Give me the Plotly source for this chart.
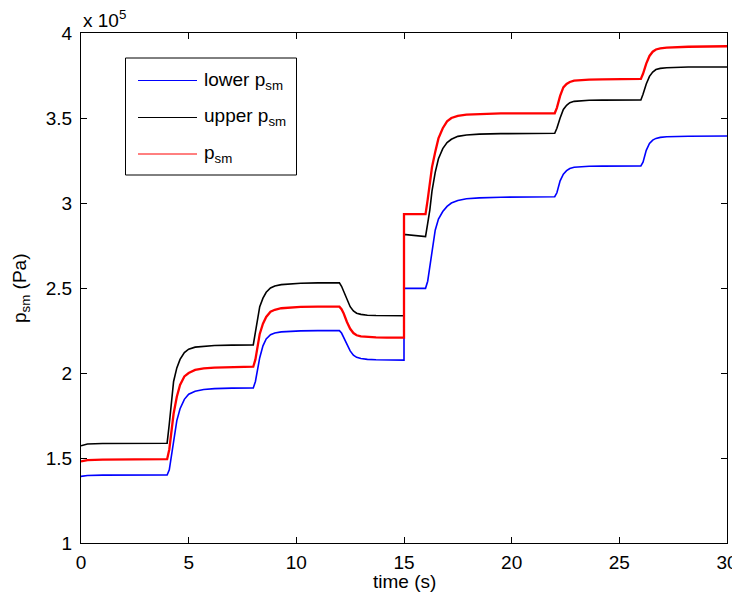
import plotly.graph_objects as go

# time samples (s)
time_s = [0, 0.3, 1, 2, 3, 4, 4.1, 4.2, 4.3, 4.45, 4.6, 4.8, 5.0, 5.3, 5.7, 6.2, 7, 8,
          8.1, 8.2, 8.3, 8.45, 8.6, 8.8, 9.0, 9.3, 9.7, 10.2, 11, 12,
          12.1, 12.2, 12.35, 12.5, 12.65, 12.8, 13.0, 13.3, 13.7, 14.2, 15, 15,
          16, 16.1, 16.2, 16.3, 16.45, 16.6, 16.8, 17.0, 17.2, 17.5, 17.9, 18.5, 19.5, 22,
          22.1, 22.25, 22.4, 22.55, 22.7, 22.9, 23.2, 23.6, 24.2, 26,
          26.1, 26.25, 26.4, 26.55, 26.7, 26.9, 27.2, 27.6, 28.2, 30]

# pressures in units of 1e5 Pa
lower_psm = [1.392, 1.397, 1.399, 1.400, 1.400, 1.400, 1.43, 1.52, 1.61, 1.72, 1.79, 1.845, 1.875, 1.893, 1.903, 1.908, 1.911, 1.912,
             1.95, 2.02, 2.09, 2.16, 2.20, 2.225, 2.235, 2.242, 2.246, 2.248, 2.249, 2.249,
             2.235, 2.21, 2.165, 2.13, 2.105, 2.092, 2.085, 2.080, 2.078, 2.076, 2.076, 2.498,
             2.498, 2.54, 2.62, 2.71, 2.84, 2.905, 2.95, 2.98, 3.00, 3.015, 3.025, 3.03, 3.034, 3.037,
             3.06, 3.13, 3.17, 3.19, 3.203, 3.21, 3.214, 3.216, 3.217, 3.218,
             3.24, 3.31, 3.35, 3.37, 3.38, 3.386, 3.39, 3.392, 3.393, 3.394]

upper_psm = [1.572, 1.582, 1.585, 1.586, 1.587, 1.587, 1.70, 1.84, 1.95, 2.03, 2.08, 2.12, 2.14, 2.152, 2.158, 2.162, 2.164, 2.165,
             2.24, 2.32, 2.39, 2.44, 2.475, 2.50, 2.512, 2.52, 2.525, 2.528, 2.53, 2.53,
             2.51, 2.48, 2.43, 2.39, 2.365, 2.352, 2.345, 2.34, 2.338, 2.337, 2.337, 2.815,
             2.802, 2.88, 2.96, 3.07, 3.18, 3.26, 3.32, 3.355, 3.375, 3.392, 3.40, 3.405, 3.408, 3.41,
             3.44, 3.50, 3.55, 3.575, 3.59, 3.598, 3.602, 3.604, 3.605, 3.606,
             3.64, 3.70, 3.745, 3.77, 3.785, 3.792, 3.796, 3.798, 3.80, 3.80]

psm = [1.480, 1.488, 1.491, 1.492, 1.493, 1.493, 1.55, 1.65, 1.76, 1.86, 1.93, 1.98, 2.00, 2.018, 2.027, 2.032, 2.036, 2.037,
       2.08, 2.16, 2.23, 2.29, 2.33, 2.36, 2.372, 2.381, 2.386, 2.389, 2.39, 2.39,
       2.375, 2.35, 2.30, 2.26, 2.235, 2.222, 2.215, 2.211, 2.209, 2.208, 2.208, 2.935,
       2.935, 3.02, 3.12, 3.21, 3.30, 3.38, 3.44, 3.48, 3.50, 3.513, 3.52, 3.524, 3.527, 3.528,
       3.56, 3.63, 3.68, 3.70, 3.712, 3.72, 3.724, 3.726, 3.727, 3.73,
       3.76, 3.82, 3.865, 3.89, 3.903, 3.91, 3.914, 3.917, 3.919, 3.922]

x_ticks = [0, 5, 10, 15, 20, 25, 30]
y_ticks = [1, 1.5, 2, 2.5, 3, 3.5, 4]
y_tick_labels = ["1", "1.5", "2", "2.5", "3", "3.5", "4"]

FONT = "Liberation Sans, Arial, sans-serif"
FS = 19

fig = go.Figure()
fig.add_trace(go.Scatter(x=time_s, y=lower_psm, mode="lines", name="lower p<sub>sm</sub>",
                         line=dict(color="#0000ff", width=1.6)))
fig.add_trace(go.Scatter(x=time_s, y=upper_psm, mode="lines", name="upper p<sub>sm</sub>",
                         line=dict(color="#000000", width=1.6)))
fig.add_trace(go.Scatter(x=time_s, y=psm, mode="lines", name="p<sub>sm</sub>",
                         line=dict(color="#ff0000", width=2.3)))

axis_common = dict(showline=True, linecolor="black", linewidth=1, mirror="ticks",
                   ticks="inside", ticklen=6, tickcolor="black", showgrid=False,
                   zeroline=False, automargin=False,
                   tickfont=dict(family=FONT, size=FS, color="black"))

# page body adds an 8px offset; figure sized to fit the 740x603 window
fig.update_layout(
    width=732, height=595,
    margin=dict(l=73, r=13, t=25, b=60),
    paper_bgcolor="white", plot_bgcolor="white",
    showlegend=False,
    xaxis=dict(range=[0, 30], tickvals=x_ticks, ticklabelstandoff=2, **axis_common),
    yaxis=dict(range=[1, 4], tickvals=y_ticks, ticktext=y_tick_labels, ticklabelstandoff=4, **axis_common),
    font=dict(family=FONT, size=FS, color="black"),
)

# axis titles and exponent
fig.add_annotation(text="time (s)", xref="paper", yref="paper", x=0.5, y=0,
                   yshift=-38, showarrow=False, xanchor="center", yanchor="middle",
                   font=dict(size=FS))
fig.add_annotation(text="p<sub>sm</sub> (Pa)", xref="paper", yref="paper", x=0, y=0.5,
                   xshift=-60, showarrow=False, textangle=-90, xanchor="center", yanchor="middle",
                   font=dict(size=FS))
fig.add_annotation(text="x 10<sup>5</sup>", xref="paper", yref="paper", x=0, y=1,
                   showarrow=False, xanchor="left", yanchor="bottom", yshift=0,
                   font=dict(size=FS))

# manual legend box (paper coords; page pixel positions relative to plot area at 81,33)
pw, ph = 646.0, 510.0
def px(xp):
    return (xp - 81) / pw
def py(yp):
    return 1 - (yp - 33) / ph

fig.add_shape(type="rect", xref="paper", yref="paper", x0=px(125.5), x1=px(296.5),
              y0=py(175), y1=py(58), line=dict(color="black", width=1), fillcolor="white", layer="above")
legend_rows = [("lower p<sub>sm</sub>", "#0000ff", 80.5),
               ("upper p<sub>sm</sub>", "#000000", 117.5),
               ("p<sub>sm</sub>", "#ff0000", 154)]
for label, col, yy in legend_rows:
    fig.add_shape(type="line", xref="paper", yref="paper", x0=px(138), x1=px(197),
                  y0=py(yy), y1=py(yy), line=dict(color=col, width=1), layer="above")
    fig.add_annotation(text=label, xref="paper", yref="paper", x=px(202), y=py(yy),
                       showarrow=False, xanchor="left", yanchor="middle", font=dict(size=FS))

fig.write_html("out.html")
